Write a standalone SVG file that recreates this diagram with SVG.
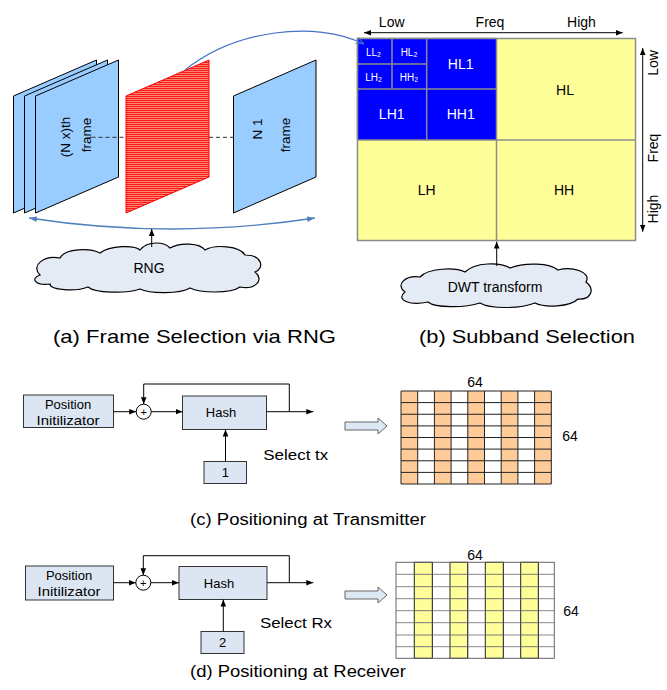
<svg xmlns="http://www.w3.org/2000/svg" width="667" height="690" viewBox="0 0 667 690">
<style>
text{font-family:"Liberation Sans",Arial,sans-serif;fill:#000}
.frame{fill:#99ccff;stroke:#000;stroke-width:1}
.box{fill:#dce6f2;stroke:#333;stroke-width:1}
.ln{fill:none;stroke:#000;stroke-width:1}
.cloud{fill:#e4ebf5;stroke:#000;stroke-width:1.2}
.sb{stroke:#8c8c8c;stroke-width:1.5}
.wt{fill:#fff}
.cap{font-size:19px}
.cap2{font-size:16px}
.lbl{font-size:14px}
.fl{font-size:13.5px}
.sm{font-size:10px;fill:#fff}
.sub{font-size:7px;fill:#fff}
.ax{font-size:14px}
.bt{font-size:13px}
</style>
<defs>
<marker id="ah" viewBox="0 0 10 10" refX="10" refY="5" markerWidth="7" markerHeight="7" orient="auto-start-reverse" markerUnits="userSpaceOnUse"><path d="M0,1 L10,5 L0,9 z" fill="#000"/></marker>
<marker id="bf" viewBox="0 0 10 10" refX="10" refY="5" markerWidth="8" markerHeight="8" orient="auto-start-reverse" markerUnits="userSpaceOnUse"><path d="M0,1.5 L10,5 L0,8.5 z" fill="#4f81bd"/></marker>
<marker id="bo" viewBox="0 0 10 10" refX="10" refY="5" markerWidth="8" markerHeight="8" orient="auto" markerUnits="userSpaceOnUse"><path d="M0,1 L10,5 L0,9" fill="none" stroke="#4472c4" stroke-width="1.2"/></marker>
<pattern id="hatch" width="4" height="2" patternUnits="userSpaceOnUse"><rect width="4" height="2" fill="#f8d0b0"/><rect width="4" height="1.4" fill="#ff1a1a"/></pattern>
</defs>

<!-- (a) Frame selection -->
<g id="frame-stack">
<polygon class="frame" points="13.5,96 96.5,60 96.5,177 13.5,213"/>
<polygon class="frame" points="24.5,96 107.5,60 107.5,177 24.5,213"/>
<polygon class="frame" points="35.5,96 118.5,60 118.5,177 35.5,213"/>
<text class="fl" transform="translate(69.5,137) rotate(-90)" text-anchor="middle">(N x)th</text>
<text class="fl" transform="translate(90.5,135) rotate(-90)" text-anchor="middle">frame</text>
</g>
<g id="rng-frame">
<polygon points="126,96 209,60 209,177 126,213" fill="url(#hatch)" stroke="#ff0000" stroke-width="1"/>
</g>
<g id="n1-frame">
<polygon class="frame" points="233.5,96 316,60 316,177 233.5,213"/>
<text class="fl" transform="translate(262,129) rotate(-90)" text-anchor="middle">N 1</text>
<text class="fl" transform="translate(289.5,135) rotate(-90)" text-anchor="middle">frame</text>
</g>
<g id="rng-cloud">
<path class="cloud" d="M40 275 C30 265,45 255,60 258 C65 248,90 248,100 253 C110 245,135 245,140 250 C148 240,165 242,170 248 C180 242,200 243,205 250 C215 244,240 246,245 255 C262 255,265 268,255 272 C265 280,255 290,240 287 C230 294,200 293,190 288 C180 294,150 294,140 289 C125 294,95 293,88 287 C75 292,50 290,50 284 C35 286,30 278,40 275 Z"/>
<text class="lbl" x="149" y="273" text-anchor="middle">RNG</text>
</g>

<!-- (b) Subband selection -->
<g id="subband">
<rect x="357.5" y="38.5" width="278" height="202" fill="#ffff99" class="sb"/>
<rect x="357.5" y="38.5" width="139" height="101.5" fill="#0000ff" class="sb"/>
<line class="sb" x1="496.5" y1="140" x2="496.5" y2="240.5"/>
<line class="sb" x1="496.5" y1="140" x2="635.5" y2="140"/>
<line class="sb" x1="426.7" y1="38.5" x2="426.7" y2="140"/>
<line class="sb" x1="357.5" y1="89" x2="496.5" y2="89"/>
<line class="sb" x1="392" y1="38.5" x2="392" y2="89"/>
<line class="sb" x1="357.5" y1="64" x2="426.7" y2="64"/>
<text class="sm" x="373.5" y="55.5" text-anchor="middle">LL<tspan class="sub" dy="1">2</tspan></text>
<text class="sm" x="409" y="55.5" text-anchor="middle">HL<tspan class="sub" dy="1">2</tspan></text>
<text class="sm" x="373.5" y="81" text-anchor="middle">LH<tspan class="sub" dy="1">2</tspan></text>
<text class="sm" x="409" y="81" text-anchor="middle">HH<tspan class="sub" dy="1">2</tspan></text>
<text class="lbl wt" x="460.7" y="68.5" text-anchor="middle">HL1</text>
<text class="lbl wt" x="391.7" y="119" text-anchor="middle">LH1</text>
<text class="lbl wt" x="460.7" y="119" text-anchor="middle">HH1</text>
<text class="lbl" x="565" y="94.5" text-anchor="middle">HL</text>
<text class="lbl" x="426.7" y="195" text-anchor="middle">LH</text>
<text class="lbl" x="564" y="195" text-anchor="middle">HH</text>
</g>
<g id="freq-axes">
<text class="ax" x="391.7" y="27" text-anchor="middle">Low</text>
<text class="ax" x="490" y="27" text-anchor="middle">Freq</text>
<text class="ax" x="581.5" y="27" text-anchor="middle">High</text>
<text class="ax" transform="translate(658,63) rotate(-90)" text-anchor="middle">Low</text>
<text class="ax" transform="translate(658,148) rotate(-90)" text-anchor="middle">Freq</text>
<text class="ax" transform="translate(658,209) rotate(-90)" text-anchor="middle">High</text>
</g>
<g id="dwt-cloud">
<path class="cloud" d="M405 292 C395 285,405 275,420 277 C428 268,455 267,465 272 C475 262,500 262,510 268 C525 262,550 263,558 270 C572 266,592 272,586 282 C596 290,590 300,578 299 C570 307,545 308,535 303 C520 309,490 309,480 303 C465 308,435 308,428 302 C410 306,395 300,405 292 Z"/>
<text class="lbl" x="495" y="292" text-anchor="middle">DWT transform</text>
</g>

<g id="captions-ab">
<text class="cap" x="53" y="343" textLength="283" lengthAdjust="spacingAndGlyphs">(a) Frame Selection via RNG</text>
<text class="cap" x="419" y="343" textLength="216" lengthAdjust="spacingAndGlyphs">(b) Subband Selection</text>
</g>

<!-- (c) Transmitter -->
<g id="tx-pos">
<rect class="box" x="23.5" y="395" width="90" height="32.5"/>
<text class="bt" x="68" y="409" text-anchor="middle">Position</text>
<text class="bt" x="68" y="424.5" text-anchor="middle" textLength="63" lengthAdjust="spacingAndGlyphs">Initilizator</text>
</g>
<g id="tx-sum">
<circle cx="143.7" cy="411.7" r="7.5" fill="#fff" stroke="#000"/>
<text x="143.7" y="415.5" text-anchor="middle" font-size="11">+</text>
</g>
<g id="tx-hash">
<rect class="box" x="182.5" y="396" width="84" height="33.5"/>
<text class="bt" x="221" y="416.5" text-anchor="middle">Hash</text>
</g>
<g id="tx-key">
<rect class="box" x="204" y="461.5" width="42.5" height="22"/>
<text class="bt" x="225.3" y="477" text-anchor="middle">1</text>
</g>
<text class="lbl" x="263.3" y="459.5" textLength="65" lengthAdjust="spacingAndGlyphs">Select tx</text>
<g id="tx-grid">
<rect x="401" y="391" width="150.3" height="93" fill="#fff"/>
<rect x="401" y="391" width="16.7" height="93" fill="#ffcc99"/>
<rect x="434.4" y="391" width="16.7" height="93" fill="#ffcc99"/>
<rect x="467.8" y="391" width="16.7" height="93" fill="#ffcc99"/>
<rect x="501.2" y="391" width="16.7" height="93" fill="#ffcc99"/>
<rect x="534.6" y="391" width="16.7" height="93" fill="#ffcc99"/>
<path d="M401 391H551.3M401 402.6H551.3M401 414.25H551.3M401 425.9H551.3M401 437.5H551.3M401 449.1H551.3M401 460.75H551.3M401 472.4H551.3M401 484H551.3M401 391V484M417.7 391V484M434.4 391V484M451.1 391V484M467.8 391V484M484.5 391V484M501.2 391V484M517.9 391V484M534.6 391V484M551.3 391V484" fill="none" stroke="#222" stroke-width="1"/>
<text class="lbl" x="475" y="386.5" text-anchor="middle">64</text>
<text class="lbl" x="570" y="441" text-anchor="middle">64</text>
</g>
<g id="tx-bigarrow">
<path d="M345 422 H378 V418 L387 426 L378 434 V430 H345 Z" fill="#dde8f5" stroke="#666" stroke-width="1"/>
</g>
<text class="cap2" x="190" y="525" textLength="236" lengthAdjust="spacingAndGlyphs">(c) Positioning at Transmitter</text>

<!-- (d) Receiver -->
<g id="rx-pos">
<rect class="box" x="25.5" y="566" width="88" height="34"/>
<text class="bt" x="69" y="580" text-anchor="middle">Position</text>
<text class="bt" x="69" y="595.5" text-anchor="middle" textLength="63" lengthAdjust="spacingAndGlyphs">Initilizator</text>
</g>
<g id="rx-sum">
<circle cx="143.3" cy="582.7" r="7.5" fill="#fff" stroke="#000"/>
<text x="143.3" y="586.5" text-anchor="middle" font-size="11">+</text>
</g>
<g id="rx-hash">
<rect class="box" x="179" y="566.5" width="88" height="33"/>
<text class="bt" x="219" y="588" text-anchor="middle">Hash</text>
</g>
<g id="rx-key">
<rect class="box" x="201" y="631.5" width="43" height="22"/>
<text class="bt" x="222.5" y="647" text-anchor="middle">2</text>
</g>
<text class="lbl" x="260" y="628" textLength="72" lengthAdjust="spacingAndGlyphs">Select Rx</text>
<g id="rx-grid">
<rect x="396" y="562.3" width="158.3" height="96" fill="#fff"/>
<path d="M396 574.3H554.3M396 586.7H554.3M396 598.7H554.3M396 610.7H554.3M396 622.7H554.3M396 635H554.3M396 646.7H554.3M432.3 562.3V658.3M467.7 562.3V658.3M503.3 562.3V658.3M538.3 562.3V658.3" fill="none" stroke="#888" stroke-width="1"/>
<g fill="#ffff99" stroke="#222" stroke-width="1">
<rect x="414.3" y="562.3" width="18" height="96"/>
<rect x="450" y="562.3" width="17.7" height="96"/>
<rect x="485.3" y="562.3" width="18" height="96"/>
<rect x="520.7" y="562.3" width="17.6" height="96"/>
</g>
<path d="M414.3 574.3h18M414.3 586.7h18M414.3 598.7h18M414.3 610.7h18M414.3 622.7h18M414.3 635h18M414.3 646.7h18M450 574.3h17.7M450 586.7h17.7M450 598.7h17.7M450 610.7h17.7M450 622.7h17.7M450 635h17.7M450 646.7h17.7M485.3 574.3h18M485.3 586.7h18M485.3 598.7h18M485.3 610.7h18M485.3 622.7h18M485.3 635h18M485.3 646.7h18M520.7 574.3h17.6M520.7 586.7h17.6M520.7 598.7h17.6M520.7 610.7h17.6M520.7 622.7h17.6M520.7 635h17.6M520.7 646.7h17.6" fill="none" stroke="#777" stroke-width="1"/>
<rect x="396" y="562.3" width="158.3" height="96" fill="none" stroke="#666" stroke-width="1"/>
<text class="lbl" x="475" y="559.5" text-anchor="middle">64</text>
<text class="lbl" x="571" y="616" text-anchor="middle">64</text>
</g>
<g id="rx-bigarrow">
<path d="M345 591 H378 V587 L387 595 L378 603 V599 H345 Z" fill="#dde8f5" stroke="#666" stroke-width="1"/>
</g>
<text class="cap2" x="190" y="677" textLength="216" lengthAdjust="spacingAndGlyphs">(d) Positioning at Receiver</text>

<!-- connectors -->
<g id="connectors">
<line x1="91.5" y1="137.3" x2="126" y2="137.3" stroke="#333" stroke-dasharray="4,3"/>
<line x1="209" y1="137.3" x2="233.5" y2="137.3" stroke="#333" stroke-dasharray="4,3"/>
<path d="M29 218 Q172 240 315 218" fill="none" stroke="#4f81bd" stroke-width="1.3" marker-start="url(#bf)" marker-end="url(#bf)"/>
<line class="ln" x1="151.7" y1="247" x2="151.7" y2="229" marker-end="url(#ah)"/>
<path d="M185 70 C235 30,315 20,364 44" fill="none" stroke="#4472c4" stroke-width="1.2" marker-end="url(#bo)"/>
<line class="ln" x1="364" y1="32.7" x2="622.7" y2="32.7" marker-start="url(#ah)" marker-end="url(#ah)"/>
<line class="ln" x1="642.7" y1="48" x2="642.7" y2="231.7" marker-start="url(#ah)" marker-end="url(#ah)"/>
<line class="ln" x1="496.7" y1="266" x2="496.7" y2="241.5" marker-end="url(#ah)"/>
<line class="ln" x1="113.5" y1="411.7" x2="136.2" y2="411.7" marker-end="url(#ah)"/>
<line class="ln" x1="151.2" y1="411.7" x2="182.5" y2="411.7" marker-end="url(#ah)"/>
<line class="ln" x1="266.5" y1="411.7" x2="313.3" y2="411.7" marker-end="url(#ah)"/>
<path class="ln" d="M289.3 411.7 V384 H143.7 V404.2" marker-end="url(#ah)"/>
<line class="ln" x1="225.5" y1="461.5" x2="225.5" y2="429.5" marker-end="url(#ah)"/>
<line class="ln" x1="113.5" y1="582.7" x2="135.8" y2="582.7" marker-end="url(#ah)"/>
<line class="ln" x1="150.8" y1="582.7" x2="179" y2="582.7" marker-end="url(#ah)"/>
<line class="ln" x1="267" y1="582.7" x2="313.3" y2="582.7" marker-end="url(#ah)"/>
<path class="ln" d="M289.3 582.7 V555.7 H143.3 V575.2" marker-end="url(#ah)"/>
<line class="ln" x1="223.3" y1="631.5" x2="223.3" y2="599.5" marker-end="url(#ah)"/>
</g>
</svg>
